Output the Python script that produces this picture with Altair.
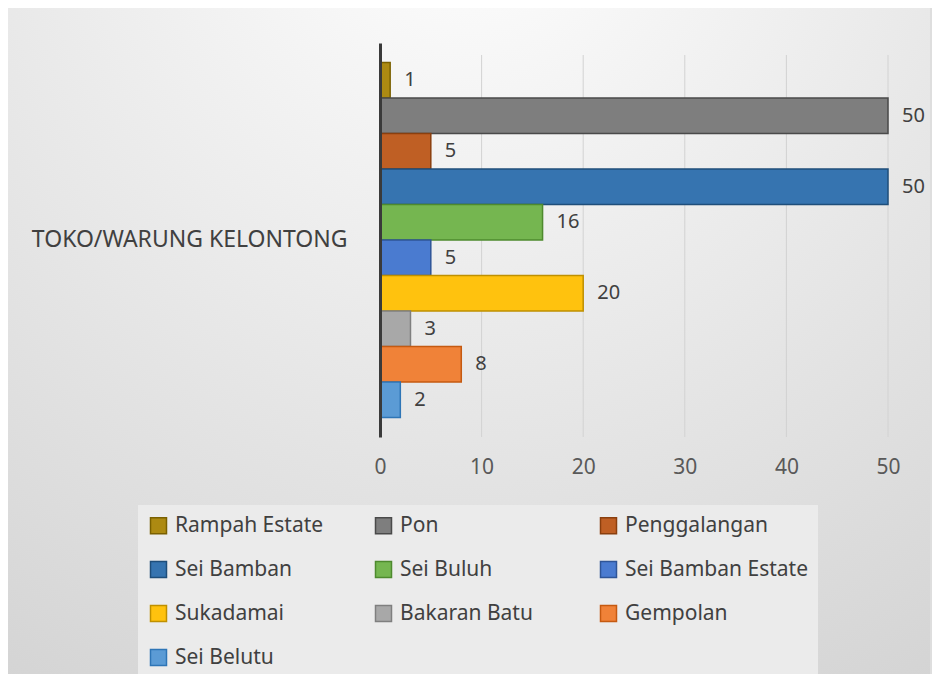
import altair as alt
import pandas as pd

# ---- data ----
categories = ["TOKO/WARUNG KELONTONG"]
series = ["Rampah Estate", "Pon", "Penggalangan", "Sei Bamban", "Sei Buluh",
          "Sei Bamban Estate", "Sukadamai", "Bakaran Batu", "Gempolan", "Sei Belutu"]
values = [1, 50, 5, 50, 16, 5, 20, 3, 8, 2]
tick_values = [0, 10, 20, 30, 40, 50]

# ---- styles ----
fills = ["#AD8A12", "#7E7E7E", "#BF5F24", "#3674B0", "#75B650",
         "#4A7BD0", "#FFC20E", "#A8A8A8", "#F08238", "#5B9BD5"]
strokes = ["#7A6000", "#4A4A4A", "#8A3F0E", "#1F4E7A", "#4E8A2E",
           "#2F5597", "#BF9000", "#7F7F7F", "#C55A11", "#2E75B6"]
FONT = "Noto Sans"

df = pd.DataFrame({
    "kategori": categories * len(series),
    "desa": series,
    "jumlah": values,
})
ticks_df = pd.DataFrame({"t": tick_values[1:]})

legend_def = alt.Legend(
    title=None, orient="none", legendX=-242, legendY=462, direction="horizontal",
    columns=3, gridAlign="all", columnPadding=14, rowPadding=21,
    symbolType="square", symbolSize=256, symbolStrokeWidth=1.5,
    labelFontSize=21, labelColor="#404040", labelFont=FONT, labelOffset=6,
    fillColor="#EBEBEB", padding=10, labelLimit=300,
)

y_enc = alt.Y(
    "kategori:N",
    scale=alt.Scale(paddingInner=0, paddingOuter=0.055),
    axis=alt.Axis(title=None, labelFontSize=23, labelColor="#404040",
                  labelPadding=33, ticks=False, domainColor="#3A3A3A",
                  domainWidth=3, labelFont=FONT, labelLimit=400, zindex=2),
)
yoff_enc = alt.YOffset("desa:N", sort=series,
                       scale=alt.Scale(domain=series, paddingInner=0, paddingOuter=0))
x_enc = alt.X(
    "jumlah:Q",
    scale=alt.Scale(domain=[0, 50], nice=False),
    axis=alt.Axis(title=None, values=tick_values, grid=False, labelFlush=False,
                  domain=False, ticks=False, labelFontSize=21, labelColor="#595959",
                  labelPadding=19, labelFont=FONT, zindex=2),
)

bg = alt.Chart(pd.DataFrame({"k": [0]})).mark_rect(
    color=alt.Gradient(
        gradient="radial",
        stops=[alt.GradientStop(color="#FFFFFF", offset=0),
               alt.GradientStop(color="#D4D4D4", offset=1)],
        x1=0.5, y1=0.0, x2=0.5, y2=0.0, r1=0, r2=1,
    )
).encode(x=alt.value(-375), x2=alt.value(550), y=alt.value(-35), y2=alt.value(632))

grid = alt.Chart(ticks_df).mark_rule(color="#D2D2D2", strokeWidth=1).encode(
    x=alt.X("t:Q"),
    y=alt.value(12),
    y2=alt.value(394),
)

bars = alt.Chart(df).mark_bar(strokeWidth=1.5).encode(
    x=x_enc,
    y=y_enc,
    yOffset=yoff_enc,
    color=alt.Color("desa:N", sort=series,
                    scale=alt.Scale(domain=series, range=fills), legend=legend_def),
    stroke=alt.Stroke("desa:N", sort=series,
                      scale=alt.Scale(domain=series, range=strokes), legend=legend_def),
)

labels = alt.Chart(df).mark_text(
    align="left", baseline="middle", dx=14, fontSize=20, color="#404040", font=FONT
).encode(
    x=alt.X("jumlah:Q"),
    y=alt.Y("kategori:N"),
    yOffset=alt.YOffset("desa:N", sort=series),
    text=alt.Text("jumlah:Q"),
)

chart = alt.layer(bg, grid, bars, labels).properties(
    width=508, height=394,
    padding={"left": 372, "top": 35, "right": 44, "bottom": 237},
    autosize=alt.AutoSizeParams(type="none"),
    background="#DEDEDE",
).configure_view(stroke=None)

chart.save("out.html", embed_options={"renderer": "svg", "actions": False})
